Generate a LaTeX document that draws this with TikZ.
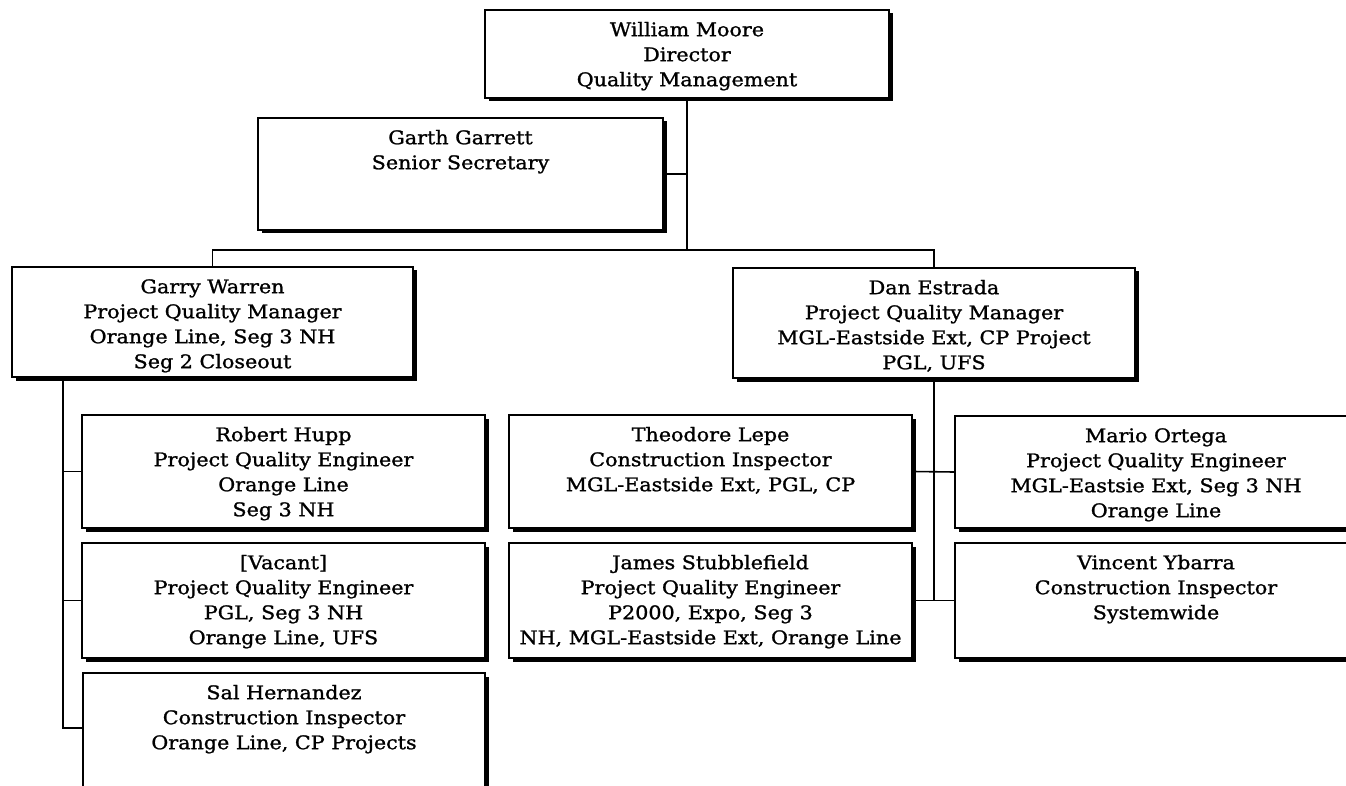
\documentclass[tikz,border=0pt]{standalone}
\usepackage{fontspec}
\setmainfont[FakeStretch=1.1,FakeBold=1.2]{DejaVu Serif}
\usetikzlibrary{shadows,calc}
\tikzset{
  pbox/.style={draw, line width=1.5pt, fill=white, rectangle, inner sep=0pt,
    drop shadow={shadow xshift=3.5pt, shadow yshift=-3.5pt, fill=black, opacity=1}},
  boxtext/.style={inner sep=0pt, align=center, anchor=north,
    font=\fontsize{18.8}{25}\selectfont},
  conn/.style={line width=1.6pt}
}
\newcommand\orgbox[6]{%
  \node[pbox, minimum width={(#4-#2)*1pt}, minimum height={(#5-#3)*1pt}]
    (#1) at ({(#2+#4)/2},{(#3+#5)/2}) {};
  \node[boxtext] (#1t) at ({(#2+#4)/2},{#3+8.5}) {\strut #6};
}
\begin{document}
\begin{tikzpicture}[x=1pt,y=-1pt]
\useasboundingbox (0,0) rectangle (1346,786);
\clip (0,0) rectangle (1346,786);
\orgbox{moore}{485}{10}{889}{98}{William Moore\\Director\\Quality Management}
\orgbox{gg}{258}{118}{663}{230}{Garth Garrett\\Senior Secretary}
\orgbox{gw}{12}{267}{413}{377}{Garry Warren\\Project Quality Manager\\Orange Line, Seg 3 NH\\Seg 2 Closeout}
\orgbox{de}{733}{268}{1135}{378}{Dan Estrada\\Project Quality Manager\\MGL-Eastside Ext, CP Project\\PGL, UFS}
\orgbox{rh}{82}{415}{485}{528}{Robert Hupp\\Project Quality Engineer\\Orange Line\\Seg 3 NH}
\orgbox{va}{82}{543}{485}{658}{[Vacant]\\Project Quality Engineer\\PGL, Seg 3 NH\\Orange Line, UFS}
\orgbox{sh}{83}{673}{485}{840}{Sal Hernandez\\Construction Inspector\\Orange Line, CP Projects}
\orgbox{tl}{509}{415}{912}{528}{Theodore Lepe\\Construction Inspector\\MGL-Eastside Ext, PGL, CP}
\orgbox{js}{509}{543}{912}{658}{James Stubblefield\\Project Quality Engineer\\P2000, Expo, Seg 3\\NH, MGL-Eastside Ext, Orange Line}
\orgbox{mo}{955}{416}{1357}{528}{Mario Ortega\\Project Quality Engineer\\MGL-Eastsie Ext, Seg 3 NH\\Orange Line}
\orgbox{vy}{955}{543}{1357}{658}{Vincent Ybarra\\Construction Inspector\\Systemwide}
% connectors
\coordinate (bar) at (0,250);
\coordinate (lx) at (63,0);
\coordinate (shc) at ($(sh.north west)+(0,56)$);
\draw[conn] (moore.south) -- (moore.south |- bar);
\draw[conn] (gg.east) -- (gg.east -| moore.south);
\draw[conn] (gw.north) |- (bar -| de.north) -- (de.north);
\draw[conn] (lx |- gw.south) |- (shc);
\draw[conn] (lx |- rh.west) -- (rh.west);
\draw[conn] (lx |- va.west) -- (va.west);
\draw[conn] (de.south) -- (de.south |- js.east);
\draw[conn] (tl.east) -- (mo.west);
\draw[conn] (js.east) -- (vy.west);
\end{tikzpicture}
\end{document}
